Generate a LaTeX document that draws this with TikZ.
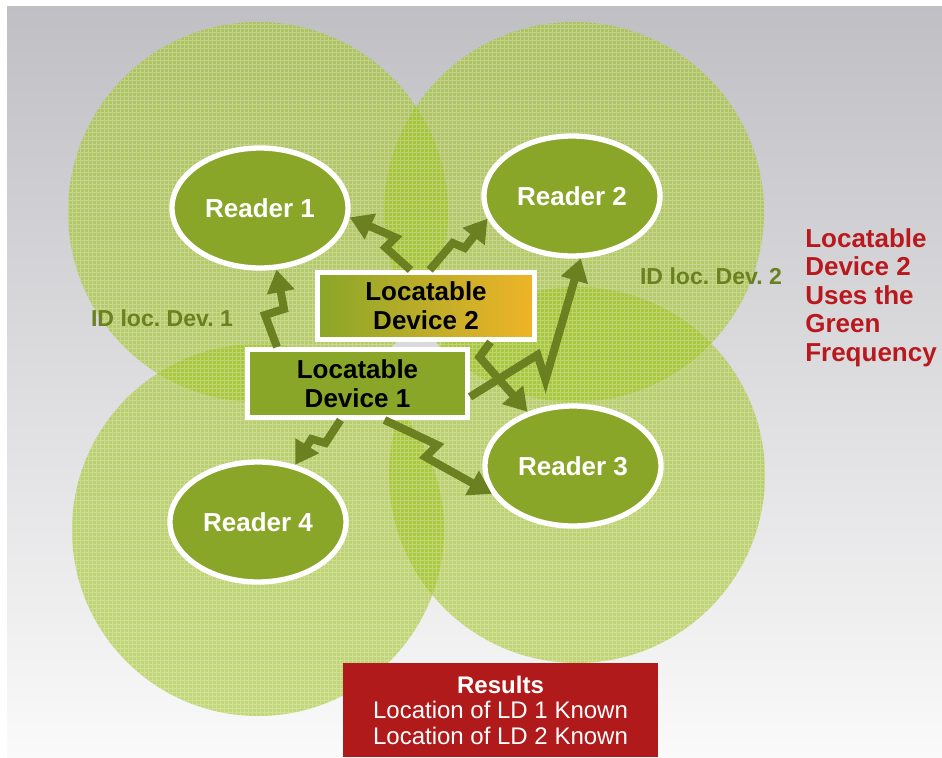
\documentclass[tikz,border=0pt]{standalone}
\usepackage{fontspec}
\setmainfont{Liberation Sans}
\usetikzlibrary{shapes.geometric,arrows.meta}

\definecolor{fundo}{RGB}{192,191,196}
\definecolor{fundoclaro}{RGB}{250,250,250}
\definecolor{verdeclaro}{RGB}{160,195,35}
\definecolor{verde}{RGB}{138,166,40}
\definecolor{verdeseta}{RGB}{107,128,32}
\definecolor{laranja}{RGB}{240,180,40}
\definecolor{vermelho}{RGB}{176,26,26}
\definecolor{vermelhotexto}{RGB}{185,25,30}

\tikzset{
	leitor/.style={ellipse, draw=white, line width=4pt, fill=verde, minimum width=132pt, minimum height=90pt, inner sep=0pt, text=white, font=\fontsize{19.5}{22}\selectfont\bfseries},
	disp/.style={rectangle, draw=white, line width=3.75pt, align=center, inner sep=0pt, font=\fontsize{19.5}{21.75}\selectfont\bfseries},
	raio/.style={draw=verdeseta, line width=6pt, -{Triangle[length=17pt,width=20pt]}},
	rotulo/.style={text=verdeseta, font=\fontsize{17.3}{19}\selectfont\bfseries}
}

\begin{document}
\frenchspacing
\begin{tikzpicture}[x=0.75pt,y=-0.75pt] %Escala em pixels
	\useasboundingbox (0,0) rectangle (942,757);
		%Fundo
	\shade[top color=fundo, bottom color=fundoclaro] (7,6) rectangle (942,757);
		%Areas de leitura
	\fill[verdeclaro, opacity=.6] (258,212) circle (142.5pt); %Area do leitor 1
	\fill[verdeclaro, opacity=.6] (574,212) circle (142.5pt); %Area do leitor 2
	\fill[verdeclaro, opacity=.6] (258,530) circle (139.5pt); %Area do leitor 4
	\fill[verdeclaro, opacity=.6] (577,475) circle (141pt); %Area do leitor 3
	\begin{scope}
		\clip (258,212) circle (142.5pt) (574,212) circle (142.5pt) (258,530) circle (139.5pt) (577,475) circle (141pt);
		\draw[white, opacity=.25, line width=.4pt, step=3pt] (60,15) grid (780,720); %Textura
	\end{scope}
		%Leitores
	\node[leitor] (r1) at (260,208) {Reader 1};
	\node[leitor] (r2) at (572,196) {Reader 2};
	\node[leitor] (r3) at (573,466) {Reader 3};
	\node[leitor] (r4) at (258,522) {Reader 4};
		%Dispositivos
	\node[disp, left color=verde, right color=laranja, minimum width=162.75pt, minimum height=50.25pt] (ld2) at (426,306) {Locatable\\Device 2};
	\node[disp, fill=verde, minimum width=165pt, minimum height=51pt] (ld1) at (357.5,383.5) {Locatable\\Device 1};
		%Sinais
	\draw[raio] ([xshift=24pt]ld1.north west) -- ++(-12,-32) -- ++(19,-6) -- (r1.-75); %LD 1 para leitor 1
	\draw[raio] ([xshift=71.6pt]ld2.north west) -- ++(-25,-22.5) -- ++(10,-10) -- (r1.-6); %LD 2 para leitor 1
	\draw[raio] ([xshift=86pt]ld2.north west) -- ++(23,-27) -- ++(12,5) -- (r2.195); %LD 2 para leitor 2
	\draw[raio] ([yshift=-10pt]ld1.east) -- ++(67.5,-42) -- ++(8,25) -- (r2.-82); %LD 1 para leitor 2
	\draw[raio] ([xshift=131.6pt]ld2.south west) -- ++(-11,15) -- (r3.130); %LD 2 para leitor 3
	\draw[raio] ([xshift=71.6pt]ld1.south west) -- ++(-15,23) -- ++(-14,-4) -- (r4.57); %LD 1 para leitor 4
	\draw[raio] ([xshift=104.6pt]ld1.south west) -- ++(53,25) -- ++(-12,12) -- (r3.199); %LD 1 para leitor 3
		%Textos
	\node[rotulo] (id1) at (162,318) {ID loc. Dev. 1};
	\node[rotulo] (id2) at (711,276) {ID loc. Dev. 2};
	\node[anchor=north west, inner sep=0pt, align=left, text=vermelhotexto, font=\fontsize{19.5}{21.4}\selectfont\bfseries] (nota) at (805,228) {Locatable\\Device 2\\Uses the\\Green\\Frequency};
	\node[fill=vermelho, text=white, minimum width=236.25pt, minimum height=70.5pt, inner sep=0pt, align=center, font=\fontsize{18}{19.1}\selectfont] (res) at (500.5,710) {\textbf{Results}\\Location of LD 1 Known\\Location of LD 2 Known};
\end{tikzpicture}
\end{document}
